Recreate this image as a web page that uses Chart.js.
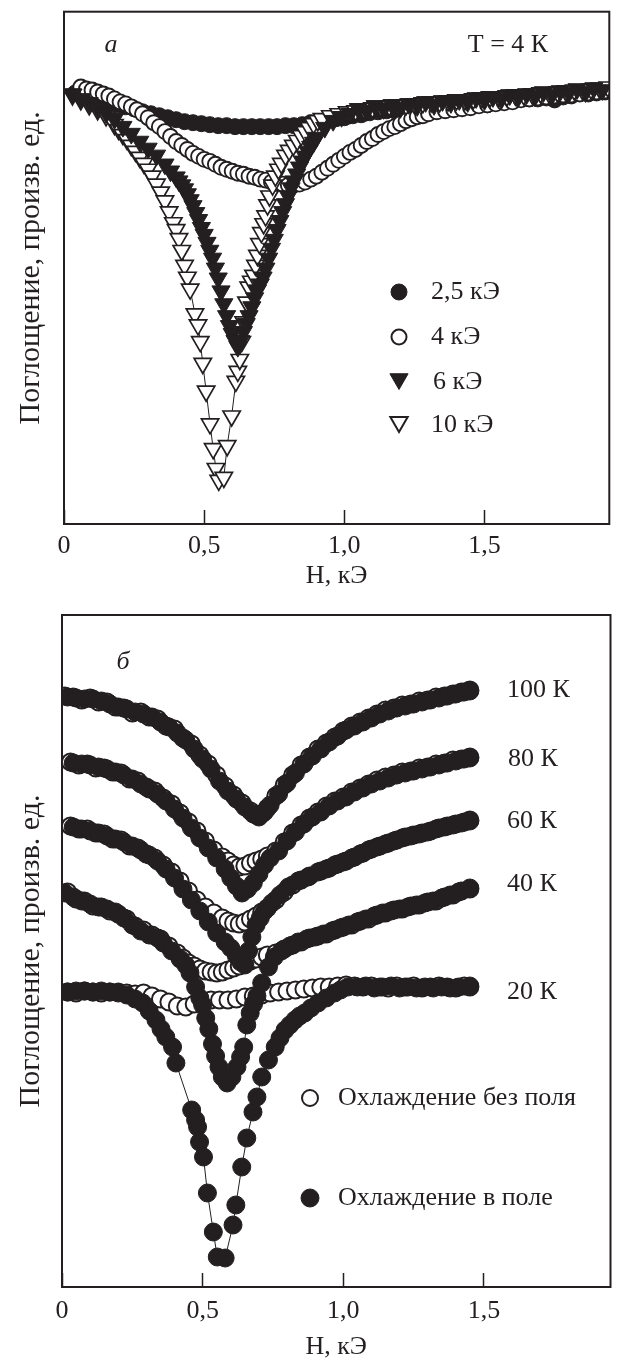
<!DOCTYPE html>
<html lang="ru">
<head>
  <meta charset="UTF-8">
  <title>Поглощение, произв. ед.</title>
  <script src="https://cdn.jsdelivr.net/npm/chart.js"></script>
  <script>
    // ---- панель а: T = 4 К, [H (кЭ), поглощение (произв. ед.)] ----
    var s25 = [[0.04,43.5],[0.07,43.3],[0.10,43.1],[0.13,42.9],[0.16,42.6],[0.19,42.3],[0.22,42.1],[0.25,41.9],[0.28,41.6],[0.31,41.4],[0.34,41.2],[0.37,41.0],[0.40,40.8],[0.43,40.6],[0.46,40.5],[0.49,40.4],[0.52,40.3],[0.55,40.2],[0.58,40.2],[0.61,40.1],[0.64,40.1],[0.67,40.1],[0.70,40.1],[0.73,40.1],[0.76,40.1],[0.79,40.2],[0.82,40.2],[0.85,40.3],[0.88,40.5],[0.91,40.6],[0.94,40.8],[0.97,40.9],[1.00,41.0],[1.03,41.2],[1.06,41.3],[1.09,41.5],[1.12,41.6],[1.15,41.7],[1.18,41.7],[1.21,41.8],[1.24,41.9],[1.27,41.9],[1.30,42.0],[1.33,42.1],[1.36,42.1],[1.39,42.2],[1.42,42.3],[1.45,42.3],[1.48,42.4],[1.51,42.3],[1.54,42.6],[1.57,42.6],[1.60,42.7],[1.63,43.0],[1.66,42.9],[1.69,42.9],[1.72,43.0],[1.75,42.8],[1.78,43.1],[1.81,43.2],[1.84,43.5],[1.87,43.4],[1.90,43.5],[1.93,43.6]];
    var s4 = [[0.06,44.1],[0.08,43.9],[0.10,43.8],[0.12,43.6],[0.14,43.4],[0.16,43.2],[0.18,42.9],[0.20,42.6],[0.22,42.4],[0.24,42.1],[0.26,41.8],[0.28,41.4],[0.30,41.0],[0.32,40.5],[0.34,40.1],[0.36,39.6],[0.38,39.1],[0.40,38.6],[0.42,38.2],[0.44,37.8],[0.46,37.4],[0.48,37.1],[0.50,36.8],[0.52,36.6],[0.54,36.3],[0.56,36.0],[0.58,35.8],[0.60,35.6],[0.62,35.4],[0.64,35.3],[0.66,35.1],[0.68,35.0],[0.70,34.8],[0.72,34.7],[0.74,34.5],[0.76,34.4],[0.78,34.3],[0.80,34.2],[0.82,34.2],[0.84,34.3],[0.86,34.5],[0.88,34.8],[0.90,35.1],[0.92,35.5],[0.94,35.9],[0.96,36.3],[0.98,36.7],[1.00,37.1],[1.02,37.5],[1.04,37.8],[1.06,38.2],[1.08,38.6],[1.10,38.9],[1.12,39.3],[1.14,39.6],[1.16,39.9],[1.18,40.1],[1.20,40.4],[1.22,40.7],[1.24,40.9],[1.26,41.1],[1.28,41.2],[1.30,41.4],[1.33,41.6],[1.36,41.7],[1.39,41.8],[1.42,41.9],[1.45,42.0],[1.48,42.2],[1.51,42.3],[1.54,42.4],[1.57,42.5],[1.60,42.6],[1.63,42.8],[1.66,42.9],[1.69,43.0],[1.72,43.1],[1.75,43.2],[1.78,43.3],[1.81,43.3],[1.84,43.4],[1.87,43.5],[1.90,43.6],[1.93,43.7]];
    var s6 = [[0.03,43.4],[0.06,42.9],[0.09,42.5],[0.12,42.0],[0.15,41.5],[0.18,40.9],[0.21,40.1],[0.24,39.4],[0.27,38.6],[0.30,37.9],[0.33,37.2],[0.36,36.3],[0.38,35.6],[0.40,35.0],[0.41,34.6],[0.42,34.2],[0.43,33.8],[0.44,33.3],[0.45,32.7],[0.46,32.1],[0.47,31.4],[0.48,30.7],[0.49,29.9],[0.50,29.2],[0.51,28.4],[0.52,27.6],[0.53,26.8],[0.54,25.8],[0.55,24.8],[0.56,23.5],[0.57,22.2],[0.58,21.0],[0.59,20.0],[0.60,19.2],[0.61,18.5],[0.62,17.9],[0.63,18.5],[0.64,19.4],[0.65,20.2],[0.66,21.0],[0.67,21.9],[0.68,22.8],[0.69,23.6],[0.70,24.2],[0.71,24.9],[0.72,25.8],[0.73,26.8],[0.74,27.8],[0.75,28.7],[0.76,29.7],[0.77,30.6],[0.78,31.5],[0.79,32.3],[0.80,33.1],[0.81,33.9],[0.82,34.6],[0.83,35.3],[0.84,36.0],[0.85,36.6],[0.86,37.1],[0.87,37.6],[0.88,38.1],[0.89,38.5],[0.90,39.0],[0.93,40.0],[0.96,40.7],[0.99,41.1],[1.02,41.4],[1.05,41.9],[1.08,41.7],[1.11,42.2],[1.14,41.9],[1.17,42.3],[1.20,42.0],[1.23,42.4],[1.26,42.2],[1.29,42.6],[1.32,42.3],[1.35,42.7],[1.38,42.5],[1.41,42.8],[1.44,42.6],[1.47,43.0],[1.50,42.8],[1.53,43.1],[1.56,42.9],[1.59,43.3],[1.62,43.1],[1.65,43.4],[1.68,43.2],[1.71,43.6],[1.74,43.3],[1.77,43.7],[1.80,43.5],[1.83,43.9],[1.86,43.6],[1.89,44.0],[1.92,43.8]];
    var s10 = [[0.03,43.3],[0.06,42.8],[0.09,42.3],[0.12,41.8],[0.15,41.2],[0.18,40.3],[0.195,39.8],[0.21,39.3],[0.225,38.8],[0.24,38.2],[0.255,37.6],[0.27,37.0],[0.285,36.4],[0.30,35.8],[0.315,35.1],[0.33,34.3],[0.345,33.5],[0.36,32.6],[0.375,31.5],[0.39,30.4],[0.40,29.7],[0.41,28.8],[0.42,27.6],[0.43,26.1],[0.44,24.9],[0.45,23.7],[0.467,21.2],[0.478,20.1],[0.486,18.4],[0.495,16.2],[0.507,13.4],[0.521,10.1],[0.532,7.6],[0.542,5.6],[0.552,4.4],[0.570,4.7],[0.582,7.9],[0.598,10.9],[0.613,14.4],[0.620,15.4],[0.627,16.6],[0.634,18.4],[0.641,20.4],[0.651,22.4],[0.659,23.9],[0.668,24.5],[0.676,25.1],[0.683,26.1],[0.690,27.1],[0.697,28.3],[0.704,29.4],[0.712,30.3],[0.719,31.1],[0.726,32.2],[0.733,33.1],[0.744,34.2],[0.754,35.1],[0.765,35.8],[0.775,36.4],[0.79,37.2],[0.803,37.7],[0.818,38.2],[0.832,38.7],[0.846,39.2],[0.86,39.6],[0.875,40.0],[0.89,40.4],[0.905,40.7],[0.92,40.9],[0.95,41.2],[0.98,41.4],[1.01,41.6],[1.04,41.7],[1.07,41.9],[1.10,42.0],[1.13,42.1],[1.16,42.2],[1.19,42.3],[1.22,42.3],[1.25,42.4],[1.28,42.5],[1.31,42.6],[1.34,42.6],[1.37,42.7],[1.40,42.8],[1.43,42.8],[1.46,42.9],[1.49,43.0],[1.52,43.1],[1.55,43.1],[1.58,43.2],[1.61,43.3],[1.64,43.3],[1.67,43.4],[1.70,43.5],[1.73,43.5],[1.76,43.6],[1.79,43.7],[1.82,43.8],[1.85,43.8],[1.88,43.9],[1.91,44.0],[1.94,44.1]];

    // ---- панель б: охлаждение в поле (fc) и без поля (zfc) ----
    var fc100 = [[0.02,59.0],[0.05,58.9],[0.08,58.8],[0.11,58.8],[0.14,58.6],[0.17,58.3],[0.20,58.0],[0.23,57.8],[0.26,57.5],[0.29,57.3],[0.32,57.0],[0.35,56.5],[0.38,56.0],[0.41,55.4],[0.44,54.7],[0.47,53.8],[0.50,52.8],[0.53,51.8],[0.56,50.6],[0.59,49.6],[0.62,48.8],[0.65,48.0],[0.68,47.3],[0.70,47.0],[0.72,47.5],[0.74,48.2],[0.77,49.3],[0.80,50.4],[0.83,51.4],[0.86,52.3],[0.89,53.1],[0.92,53.8],[0.95,54.5],[0.98,55.1],[1.01,55.7],[1.04,56.1],[1.07,56.5],[1.10,56.9],[1.13,57.3],[1.16,57.6],[1.19,57.9],[1.22,58.1],[1.25,58.3],[1.28,58.5],[1.31,58.7],[1.34,58.9],[1.37,59.1],[1.40,59.3],[1.43,59.5],[1.45,59.6]];
    var zfc100 = [[0.01,59.1],[0.04,59.0],[0.07,58.7],[0.10,58.9],[0.13,58.5],[0.16,58.5],[0.19,58.0],[0.22,57.9],[0.25,57.4],[0.28,57.5],[0.31,57.0],[0.34,56.8],[0.37,56.1],[0.40,55.8],[0.43,54.9],[0.46,54.3],[0.49,53.2],[0.52,52.3],[0.55,51.2],[0.58,50.1],[0.61,49.2],[0.64,48.4],[0.67,47.6],[0.69,47.2],[0.71,47.3],[0.73,47.9],[0.76,49.1],[0.79,50.2],[0.82,51.2],[0.85,52.2],[0.88,53.0],[0.91,53.8],[0.94,54.4],[0.97,55.0],[1.00,55.6],[1.03,56.1],[1.06,56.5],[1.09,56.9],[1.12,57.3],[1.15,57.7],[1.18,57.9],[1.21,58.2],[1.24,58.3],[1.27,58.6],[1.30,58.7],[1.33,59.0],[1.36,59.1],[1.39,59.3],[1.42,59.5],[1.45,59.7]];
    var fc80 = [[0.04,52.4],[0.07,52.3],[0.10,52.2],[0.13,52.0],[0.16,51.8],[0.19,51.5],[0.22,51.2],[0.25,50.8],[0.28,50.3],[0.31,49.8],[0.34,49.3],[0.37,48.6],[0.40,47.8],[0.43,46.9],[0.46,45.9],[0.49,44.9],[0.52,43.9],[0.55,42.9],[0.58,41.8],[0.60,40.9],[0.62,40.1],[0.64,39.4],[0.66,39.8],[0.68,40.4],[0.70,41.3],[0.72,42.2],[0.74,42.9],[0.77,43.6],[0.80,44.6],[0.83,45.5],[0.86,46.3],[0.89,47.0],[0.92,47.5],[0.95,48.1],[0.98,48.6],[1.01,49.0],[1.04,49.5],[1.07,49.9],[1.10,50.3],[1.13,50.6],[1.16,50.9],[1.19,51.2],[1.22,51.4],[1.25,51.6],[1.28,51.8],[1.31,52.0],[1.34,52.2],[1.37,52.4],[1.40,52.6],[1.43,52.8],[1.45,52.9]];
    var zfc80 = [[0.03,52.5],[0.06,52.2],[0.09,52.3],[0.12,51.9],[0.15,51.9],[0.18,51.5],[0.21,51.4],[0.24,50.8],[0.27,50.6],[0.30,50.0],[0.33,49.6],[0.36,48.9],[0.39,48.3],[0.42,47.4],[0.45,46.5],[0.48,45.6],[0.51,44.6],[0.54,43.7],[0.57,43.0],[0.59,42.6],[0.61,42.2],[0.63,42.0],[0.65,42.1],[0.67,42.4],[0.69,42.6],[0.71,42.8],[0.73,43.1],[0.76,43.6],[0.79,44.5],[0.82,45.4],[0.85,46.2],[0.88,46.9],[0.91,47.5],[0.94,48.1],[0.97,48.6],[1.00,49.0],[1.03,49.5],[1.06,49.9],[1.09,50.3],[1.12,50.7],[1.15,51.0],[1.18,51.2],[1.21,51.5],[1.24,51.6],[1.27,51.9],[1.30,52.0],[1.33,52.3],[1.36,52.4],[1.39,52.7],[1.42,52.8],[1.45,53.0]];
    var fc60 = [[0.04,46.0],[0.07,45.8],[0.10,45.6],[0.13,45.4],[0.16,45.1],[0.19,44.8],[0.22,44.5],[0.25,44.1],[0.28,43.7],[0.31,43.2],[0.34,42.6],[0.37,41.8],[0.40,40.9],[0.43,39.8],[0.46,38.7],[0.49,37.6],[0.52,36.5],[0.55,35.4],[0.58,34.5],[0.60,33.9],[0.62,33.1],[0.635,32.5],[0.65,32.2],[0.663,33.6],[0.675,35.0],[0.69,36.2],[0.705,36.9],[0.72,37.6],[0.746,38.4],[0.775,39.2],[0.805,40.0],[0.84,40.6],[0.875,41.0],[0.91,41.5],[0.94,41.8],[0.97,42.2],[1.00,42.5],[1.03,42.9],[1.06,43.3],[1.09,43.7],[1.12,44.0],[1.15,44.3],[1.18,44.6],[1.21,44.9],[1.24,45.1],[1.27,45.3],[1.30,45.5],[1.33,45.8],[1.36,46.0],[1.39,46.2],[1.42,46.4],[1.45,46.6]];
    var zfc60 = [[0.03,46.1],[0.06,45.8],[0.09,45.8],[0.12,45.4],[0.15,45.3],[0.18,44.8],[0.21,44.7],[0.24,44.1],[0.27,43.9],[0.30,43.3],[0.33,42.9],[0.36,42.2],[0.39,41.5],[0.42,40.6],[0.45,39.6],[0.48,38.7],[0.51,38.0],[0.54,37.4],[0.57,36.9],[0.59,36.6],[0.61,36.4],[0.63,36.3],[0.65,36.5],[0.67,36.8],[0.69,37.1],[0.71,37.5],[0.73,37.9],[0.76,38.7],[0.79,39.5],[0.82,40.2],[0.85,40.7],[0.88,41.1],[0.92,41.6],[0.95,41.9],[0.98,42.3],[1.01,42.6],[1.04,43.0],[1.07,43.4],[1.10,43.8],[1.13,44.1],[1.16,44.4],[1.19,44.7],[1.22,45.0],[1.25,45.2],[1.28,45.4],[1.31,45.6],[1.34,45.9],[1.37,46.1],[1.40,46.3],[1.43,46.5],[1.45,46.7]];
    var fc40 = [[0.01,39.4],[0.04,39.0],[0.07,38.6],[0.10,38.3],[0.13,38.0],[0.16,37.8],[0.19,37.5],[0.22,36.9],[0.25,36.2],[0.28,35.6],[0.31,35.2],[0.34,34.9],[0.36,34.4],[0.39,33.6],[0.42,32.8],[0.44,32.2],[0.455,31.4],[0.475,30.0],[0.49,28.9],[0.50,28.2],[0.511,26.9],[0.522,25.8],[0.535,24.3],[0.546,23.1],[0.558,22.0],[0.57,21.0],[0.587,20.4],[0.604,21.0],[0.622,22.0],[0.635,23.0],[0.646,24.0],[0.657,26.2],[0.669,27.4],[0.681,28.3],[0.693,29.1],[0.71,30.4],[0.734,32.0],[0.755,33.0],[0.78,33.6],[0.81,34.1],[0.84,34.5],[0.87,34.8],[0.90,35.0],[0.93,35.3],[0.96,35.6],[0.99,35.9],[1.02,36.2],[1.05,36.5],[1.08,36.8],[1.11,37.1],[1.14,37.4],[1.17,37.6],[1.20,37.8],[1.23,38.0],[1.26,38.2],[1.29,38.4],[1.32,38.6],[1.35,38.9],[1.38,39.2],[1.41,39.5],[1.45,39.9]];
    var zfc40 = [[0.02,39.5],[0.05,38.8],[0.08,38.6],[0.11,38.1],[0.14,38.0],[0.17,37.6],[0.20,37.3],[0.23,36.8],[0.26,36.1],[0.29,35.7],[0.32,35.2],[0.35,34.8],[0.38,34.1],[0.41,33.4],[0.43,32.9],[0.45,32.4],[0.47,32.1],[0.49,31.8],[0.51,31.6],[0.53,31.5],[0.55,31.4],[0.57,31.5],[0.59,31.7],[0.61,31.9],[0.63,32.1],[0.65,32.4],[0.67,32.6],[0.69,32.8],[0.71,33.0],[0.73,33.2],[0.76,33.4],[0.79,33.8],[0.82,34.2],[0.85,34.5],[0.88,34.9],[0.91,35.1],[0.94,35.3],[0.97,35.7],[1.00,36.0],[1.03,36.2],[1.06,36.6],[1.09,36.8],[1.12,37.2],[1.15,37.4],[1.18,37.7],[1.21,37.8],[1.24,38.1],[1.27,38.2],[1.30,38.5],[1.33,38.6],[1.36,39.0],[1.39,39.2],[1.42,39.6],[1.45,39.8]];
    var fc20 = [[0.02,29.5],[0.05,29.6],[0.08,29.6],[0.11,29.5],[0.14,29.6],[0.17,29.5],[0.20,29.4],[0.23,29.2],[0.26,28.8],[0.287,28.4],[0.31,27.6],[0.334,26.7],[0.352,25.8],[0.369,25.0],[0.393,24.0],[0.405,22.4],[0.461,17.7],[0.475,16.7],[0.482,16.0],[0.489,14.5],[0.503,13.0],[0.517,9.4],[0.538,5.5],[0.552,3.0],[0.580,2.9],[0.608,6.2],[0.618,8.2],[0.639,12.0],[0.657,14.9],[0.679,17.5],[0.693,19.0],[0.710,21.0],[0.734,22.7],[0.758,24.0],[0.775,24.9],[0.793,25.7],[0.81,26.2],[0.828,26.7],[0.845,27.1],[0.863,27.4],[0.885,27.9],[0.91,28.4],[0.94,28.9],[0.969,29.4],[0.99,29.7],[1.016,30.0],[1.05,30.0],[1.08,30.1],[1.11,29.9],[1.14,30.0],[1.17,30.1],[1.20,29.9],[1.23,30.0],[1.26,29.9],[1.29,30.0],[1.32,29.9],[1.35,30.0],[1.38,29.9],[1.41,30.0],[1.45,30.1]];
    var zfc20 = [[0.02,29.5],[0.05,29.4],[0.08,29.6],[0.11,29.5],[0.14,29.4],[0.17,29.5],[0.20,29.5],[0.23,29.4],[0.26,29.3],[0.29,29.4],[0.32,29.1],[0.35,28.8],[0.38,28.5],[0.41,28.1],[0.44,28.0],[0.47,28.3],[0.50,28.5],[0.53,28.7],[0.56,28.7],[0.59,28.7],[0.62,28.8],[0.65,29.0],[0.68,29.1],[0.71,29.2],[0.74,29.4],[0.77,29.5],[0.80,29.6],[0.83,29.7],[0.86,29.8],[0.89,29.9],[0.92,30.0],[0.95,30.0],[0.98,30.1],[1.01,30.2],[1.04,30.1],[1.07,30.0],[1.10,30.1],[1.13,30.0],[1.16,29.9],[1.19,30.1],[1.22,30.0],[1.25,30.1],[1.28,29.9],[1.31,30.0],[1.34,30.1],[1.37,30.0],[1.40,29.9],[1.43,30.1],[1.45,30.0]];

    // подписи
    var xTicks = [0, 0.5, 1.0, 1.5];
    var xTickLabels = ['0', '0,5', '1,0', '1,5'];
    var xTitle = 'H, кЭ';
    var yTitle = 'Поглощение, произв. ед.';
    var fieldLabels = ['2,5 кЭ', '4 кЭ', '6 кЭ', '10 кЭ'];
    var tempLabels = ['100 К', '80 К', '60 К', '40 К', '20 К'];
    var coolLabels = ['Охлаждение без поля', 'Охлаждение в поле'];
  </script>
  <style>
    html, body {
      margin: 0;
      padding: 0;
      background: #fff;
      overflow: hidden;
    }
    #panelA {
      position: absolute;
      left: 0;
      top: 0;
      width: 621px;
      height: 600px;
    }
    #panelB {
      position: absolute;
      left: 0;
      top: 590px;
      width: 621px;
      height: 780px;
    }
  </style>
</head>
<body>

  <div id="panelA"><canvas id="grafico-a"></canvas></div>
  <div id="panelB"><canvas id="grafico-b"></canvas></div>

  <script>
    var ink = '#231f20';
    var serif = "'Liberation Serif', 'Times New Roman', serif";
    Chart.defaults.font.family = serif;
    Chart.defaults.color = ink;

    function serie(label, pares, estilo, relleno, radio, borde) {
      return {
        label: label,
        data: pares.map(function (p) { return { x: p[0], y: p[1] }; }),
        showLine: true,
        borderColor: ink,
        borderWidth: 1,
        pointStyle: estilo,
        pointRotation: estilo === 'triangle' ? 180 : 0,
        pointRadius: radio,
        pointHoverRadius: radio,
        pointBorderWidth: borde,
        pointBorderColor: ink,
        pointBackgroundColor: relleno ? ink : '#fff',
        clip: 0
      };
    }

    function marca(ctx, m) {
      ctx.beginPath();
      if (m.estilo === 'circle') {
        ctx.arc(m.x, m.y, m.r, 0, 2 * Math.PI);
      } else {
        ctx.moveTo(m.x - m.r * 0.866, m.y - m.r * 0.5);
        ctx.lineTo(m.x + m.r * 0.866, m.y - m.r * 0.5);
        ctx.lineTo(m.x, m.y + m.r);
        ctx.closePath();
      }
      ctx.fillStyle = m.relleno ? ink : '#fff';
      ctx.fill();
      ctx.lineWidth = m.borde;
      ctx.strokeStyle = ink;
      ctx.stroke();
    }

    // marco y textos dentro del gráfico
    function notas(id, textos, marcas) {
      return {
        id: id,
        afterDraw: function (chart) {
          var ctx = chart.ctx;
          var a = chart.chartArea;
          ctx.save();
          ctx.strokeStyle = ink;
          ctx.lineWidth = 2;
          ctx.strokeRect(a.left, a.top, a.right - a.left, a.bottom - a.top);
          ctx.fillStyle = ink;
          ctx.textBaseline = 'middle';
          textos.forEach(function (t) {
            ctx.font = (t.italic ? 'italic ' : '') + '26px ' + serif;
            ctx.textAlign = t.align || 'left';
            ctx.fillText(t.text, t.x, t.y);
          });
          marcas.forEach(function (m) { marca(ctx, m); });
          ctx.restore();
        }
      };
    }

    function ejes(xMax, yMax, yAncho, xAlto, tickPad, titlePad) {
      return {
        x: {
          type: 'linear',
          min: 0,
          max: xMax,
          afterBuildTicks: function (axis) {
            axis.ticks = xTicks.map(function (v) { return { value: v }; });
          },
          afterFit: function (axis) { axis.height = xAlto; },
          ticks: {
            callback: function (v, i) { return xTickLabels[i]; },
            font: { size: 26 },
            color: ink,
            padding: tickPad,
            maxRotation: 0,
            minRotation: 0,
            autoSkip: false
          },
          grid: {
            display: true,
            drawOnChartArea: false,
            drawTicks: true,
            tickLength: -14,
            tickWidth: 1.5,
            tickColor: ink
          },
          border: { display: true, color: ink, width: 2 },
          title: {
            display: true,
            text: xTitle,
            font: { size: 26 },
            color: ink,
            padding: { top: 0, bottom: titlePad }
          }
        },
        y: {
          min: 0,
          max: yMax,
          afterFit: function (axis) { axis.width = yAncho; },
          ticks: { display: false },
          grid: { display: false },
          border: { display: true, color: ink, width: 2 },
          title: {
            display: true,
            text: yTitle,
            font: { size: 30 },
            color: ink,
            padding: { top: 13, bottom: 0 }
          }
        }
      };
    }

    // ---- а ----
    new Chart(document.getElementById('grafico-a'), {
      type: 'scatter',
      data: {
        datasets: [
          serie(fieldLabels[2], s6, 'triangle', true, 10.5, 1),
          serie(fieldLabels[3], s10, 'triangle', false, 10, 1.7),
          serie(fieldLabels[1], s4, 'circle', false, 7.5, 1.9),
          serie(fieldLabels[0], s25, 'circle', true, 8, 1)
        ]
      },
      options: {
        responsive: true,
        maintainAspectRatio: false,
        animation: false,
        layout: { padding: { left: 0, right: 9, top: 7, bottom: 0 } },
        scales: ejes(1.945, 51.7, 64, 76, 21, 8),
        plugins: { legend: { display: false }, tooltip: { enabled: false } }
      },
      plugins: [notas('notas-a', [
        { text: 'а', x: 111, y: 45, italic: true, align: 'center' },
        { text: 'T = 4 К', x: 508, y: 45, align: 'center' },
        { text: fieldLabels[0], x: 431, y: 292 },
        { text: fieldLabels[1], x: 431, y: 337 },
        { text: fieldLabels[2], x: 433, y: 382 },
        { text: fieldLabels[3], x: 431, y: 425 }
      ], [
        { estilo: 'circle', relleno: true, r: 8, x: 399, y: 292, borde: 1 },
        { estilo: 'circle', relleno: false, r: 7.5, x: 399, y: 337, borde: 2 },
        { estilo: 'triangle', relleno: true, r: 10.5, x: 399, y: 379, borde: 1 },
        { estilo: 'triangle', relleno: false, r: 10, x: 399, y: 422, borde: 2 }
      ])]
    });

    // ---- б ----
    new Chart(document.getElementById('grafico-b'), {
      type: 'scatter',
      data: {
        datasets: [
          serie(coolLabels[1] + ' 100', fc100, 'circle', true, 9, 1),
          serie(coolLabels[1] + ' 80', fc80, 'circle', true, 9, 1),
          serie(coolLabels[1] + ' 60', fc60, 'circle', true, 9, 1),
          serie(coolLabels[1] + ' 40', fc40, 'circle', true, 9, 1),
          serie(coolLabels[1] + ' 20', fc20, 'circle', true, 9, 1),
          serie(coolLabels[0] + ' 100', zfc100, 'circle', false, 8.5, 2),
          serie(coolLabels[0] + ' 80', zfc80, 'circle', false, 8.5, 2),
          serie(coolLabels[0] + ' 60', zfc60, 'circle', false, 8.5, 2),
          serie(coolLabels[0] + ' 40', zfc40, 'circle', false, 8.5, 2),
          serie(coolLabels[0] + ' 20', zfc20, 'circle', false, 8.5, 2)
        ]
      },
      options: {
        responsive: true,
        maintainAspectRatio: false,
        animation: false,
        layout: { padding: { left: 0, right: 7, top: 25, bottom: 0 } },
        scales: ejes(1.95, 67.2, 62, 83, 23, 7),
        plugins: { legend: { display: false }, tooltip: { enabled: false } }
      },
      plugins: [notas('notas-b', [
        { text: 'б', x: 123, y: 72, italic: true, align: 'center' },
        { text: tempLabels[0], x: 507, y: 100 },
        { text: tempLabels[1], x: 508, y: 169 },
        { text: tempLabels[2], x: 507, y: 231 },
        { text: tempLabels[3], x: 507, y: 294 },
        { text: tempLabels[4], x: 507, y: 402 },
        { text: coolLabels[0], x: 338, y: 508 },
        { text: coolLabels[1], x: 338, y: 608 }
      ], [
        { estilo: 'circle', relleno: false, r: 8, x: 310, y: 508, borde: 2 },
        { estilo: 'circle', relleno: true, r: 9, x: 310, y: 608, borde: 1 }
      ])]
    });
  </script>

</body>
</html>
